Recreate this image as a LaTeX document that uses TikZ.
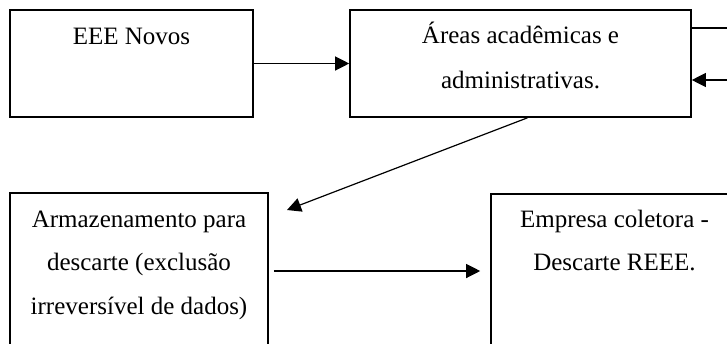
\documentclass[tikz,border=0pt]{standalone}
\usepackage{fontspec}
\setmainfont{Liberation Serif}
\usetikzlibrary{fit,arrows.meta}
\begin{document}
\begin{tikzpicture}[x=0.5pt,y=-0.5pt,
  box/.style={draw,line width=0.8pt,inner sep=0pt},
  txt/.style={font=\fontsize{12.5pt}{22pt}\selectfont,inner sep=0pt,anchor=base},
  arr/.style={line width=0.6pt,-{Triangle[length=7pt,width=7pt]}},
  con/.style={line width=0.6pt}]
\useasboundingbox (0,0) rectangle (727,343);
\clip (0,0) rectangle (727,343);
\node[box,fit={(10,10) (253,117)}] (b1) {};
\node[box,fit={(350,10) (691,117)}] (b2) {};
\node[box,fit={(10,193) (268,380)}] (b3) {};
\node[box,fit={(491,194) (780,380)}] (b4) {};
\node[txt] (t1) at (131.5,44) {EEE Novos};
\node[txt] (t2a) at (520.5,43) {Áreas acadêmicas e};
\node[txt] (t2b) at (520.5,88) {administrativas.};
\node[txt] (t3a) at (139,227) {Armazenamento para};
\node[txt] (t3b) at (139,270) {descarte (exclusão};
\node[txt] (t3c) at (139,314) {irreversível de dados)};
\node[txt] (t4a) at (614.5,227) {Empresa coletora -};
\node[txt] (t4b) at (614.5,270) {Descarte REEE.};
\coordinate (r1) at (727,28);
\coordinate (r2) at (727,80);
\coordinate (m) at (0,271);
\coordinate (c3) at (287,210);
\draw[arr] (b1.east) -- (b2.west);
\draw[con] (b2.east |- r1) -- (r1);
\draw[arr] (r2) -- (b2.east |- r2);
\draw[arr] ([xshift=3.5pt]b2.south) -- (c3);
\draw[arr,shorten <=2.5pt,shorten >=5pt] (b3.east |- m) -- (b4.west |- m);
\end{tikzpicture}
\end{document}
